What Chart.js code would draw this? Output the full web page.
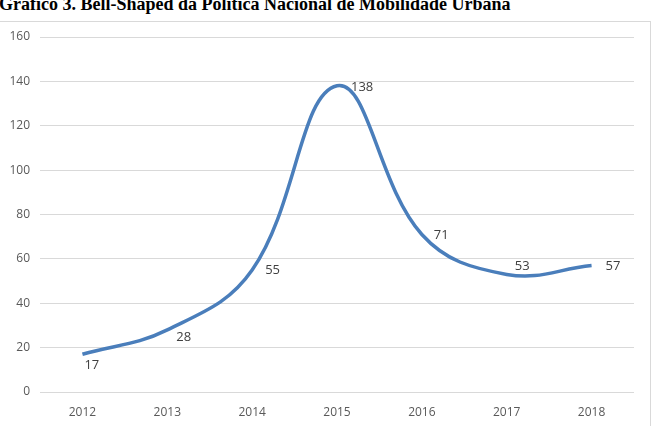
<!DOCTYPE html>
<html>
<head>
<meta charset="utf-8">
<script src="https://cdn.jsdelivr.net/npm/chart.js@4/dist/chart.umd.min.js"></script>
<style>
    html, body { margin: 0; padding: 0; background: #fff; overflow: hidden; }
    #wrap { position: relative; width: 651px; height: 426px; }
    #title {
        position: absolute; left: -1px; top: -6px; white-space: nowrap;
        font: bold 18px "Liberation Serif", "Times New Roman", serif; color: #000;
    }
    #frame {
        position: absolute; left: -1px; top: 21px; width: 650px; height: 420px;
        border: 1px solid #d9d9d9;
    }
    #chart { position: absolute; left: 0; top: 0; }
</style>
</head>
<body>
<div id="wrap">
    <div id="title">Gráfico 3. Bell-Shaped da Política Nacional de Mobilidade Urbana</div>
    <div id="frame"></div>
    <canvas id="chart" width="651" height="426"></canvas>
</div>
<script>
const years = ['2012', '2013', '2014', '2015', '2016', '2017', '2018'];
const counts = [17, 28, 55, 138, 71, 53, 57];
const yTicks = [0, 20, 40, 60, 80, 100, 120, 140, 160];

// label offsets relative to the point (Excel-like placement)
const labelDx = [2, 9, 13, 14, 12, 8, 14];
const labelDy = [11, 7, 0, 1, 1, -8, 1];

const pointLabels = {
    id: 'pointLabels',
    afterDatasetsDraw(chart) {
        const ctx = chart.ctx;
        const meta = chart.getDatasetMeta(0);
        ctx.save();
        ctx.font = '13px "Open Sans", "Liberation Sans", sans-serif';
        ctx.fillStyle = '#404040';
        ctx.textAlign = 'left';
        ctx.textBaseline = 'middle';
        meta.data.forEach((pt, i) => {
            ctx.fillText(String(counts[i]), pt.x + labelDx[i], pt.y + labelDy[i]);
        });
        ctx.restore();
    }
};

new Chart(document.getElementById('chart'), {
    type: 'line',
    data: {
        labels: years,
        datasets: [{
            data: counts,
            borderColor: '#4a7ebb',
            borderWidth: 3.5,
            pointRadius: 0,
            tension: 0.4,
            fill: false
        }]
    },
    options: {
        responsive: false,
        animation: false,
        layout: { padding: { top: 37, right: 17, left: 0, bottom: 0 } },
        plugins: { legend: { display: false }, tooltip: { enabled: false } },
        scales: {
            x: {
                offset: true,
                grid: { display: false },
                border: { display: false },
                ticks: { color: '#595959', font: { size: 12, family: '"Open Sans", "Liberation Sans", sans-serif' }, padding: 5 },
                afterFit: s => { s.height = 34; }
            },
            y: {
                min: 0, max: 160,
                afterBuildTicks: s => { s.ticks = yTicks.map(v => ({ value: v })); },
                grid: { color: '#d9d9d9', drawTicks: false },
                border: { display: false },
                ticks: { color: '#595959', font: { size: 12, family: '"Open Sans", "Liberation Sans", sans-serif' }, padding: 10 },
                afterFit: s => { s.width = 40; }
            }
        }
    },
    plugins: [pointLabels]
});
</script>
</body>
</html>
